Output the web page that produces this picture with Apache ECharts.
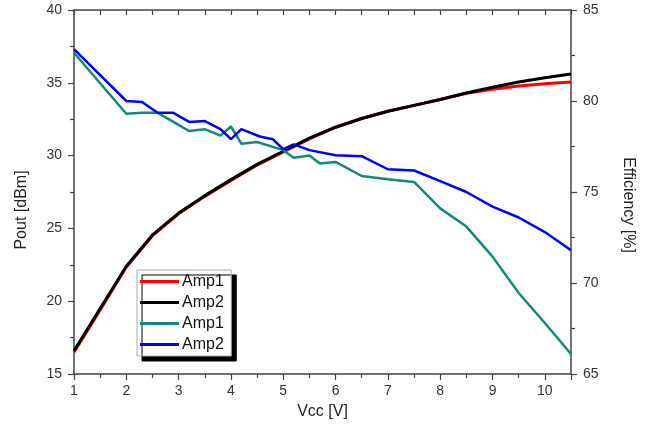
<!DOCTYPE html>
<html>
<head>
<meta charset="utf-8">
<script src="https://cdn.jsdelivr.net/npm/echarts@6/dist/echarts.min.js"></script>
<style>
html,body{margin:0;padding:0;background:#fff;}
#chart{width:649px;height:436px;}
</style>
</head>
<body>
<div id="chart"></div>
<script>
// Output power vs Vcc
const vccPout = [1, 1.5, 2, 2.5, 3, 3.5, 4, 4.5, 5, 5.5, 6, 6.5, 7, 7.5, 8, 8.5, 9, 9.5, 10, 10.5];
const poutAmp1 = [16.5, 19.4, 22.35, 24.5, 26.0, 27.2, 28.3, 29.35, 30.25, 31.15, 31.95, 32.55, 33.05, 33.45, 33.85, 34.28, 34.55, 34.78, 34.93, 35.05];
const poutAmp2 = [16.6, 19.5, 22.4, 24.55, 26.05, 27.25, 28.35, 29.4, 30.3, 31.2, 31.95, 32.55, 33.05, 33.45, 33.85, 34.3, 34.7, 35.05, 35.35, 35.6];

// Efficiency vs Vcc
const vccEff1 = [1, 2, 2.3, 2.6, 2.9, 3.2, 3.5, 3.8, 4.0, 4.2, 4.5, 5.0, 5.2, 5.5, 5.7, 6.0, 6.5, 7.0, 7.5, 8.0, 8.5, 9.0, 9.5, 10.0, 10.5];
const effAmp1 = [82.65, 79.3, 79.35, 79.35, 78.85, 78.35, 78.45, 78.1, 78.6, 77.65, 77.75, 77.3, 76.88, 77.0, 76.56, 76.65, 75.88, 75.7, 75.55, 74.1, 73.1, 71.45, 69.45, 67.8, 66.1];
const vccEff2 = [1, 2, 2.3, 2.6, 2.9, 3.2, 3.5, 3.8, 4.0, 4.2, 4.55, 4.8, 5.0, 5.2, 5.5, 6.0, 6.5, 7.0, 7.5, 8.0, 8.5, 9.0, 9.5, 10.0, 10.5];
const effAmp2 = [82.85, 80.0, 79.95, 79.35, 79.35, 78.85, 78.9, 78.45, 77.9, 78.45, 78.05, 77.9, 77.35, 77.62, 77.3, 77.02, 76.97, 76.25, 76.18, 75.6, 75.0, 74.2, 73.6, 72.8, 71.8];

const legendNames = ['Amp1', 'Amp2', 'Amp1 ', 'Amp2 '];
const colors = ['#ff0000', '#000000', '#16867e', '#0000ff'];

function pairs(xs, ys) { return xs.map((x, i) => [x, ys[i]]); }

const FONT = 'Liberation Sans, Arial, sans-serif';
const axisLineStyle = { color: '#444', width: 1.5 };
const labelStyle = { color: '#333', fontSize: 14, fontFamily: FONT };

const chart = echarts.init(document.getElementById('chart'), null, { renderer: 'canvas' });
chart.setOption({
  animation: false,
  backgroundColor: '#fff',
  grid: { left: 74, right: 78, top: 10, bottom: 62, containLabel: false },
  legend: {
    data: legendNames,
    orient: 'vertical',
    left: 137, top: 270,
    icon: 'rect',
    itemWidth: 39, itemHeight: 3,
    itemGap: 4,
    padding: [3, 3, 3, 3],
    backgroundColor: '#fff',
    borderColor: '#aaa',
    borderWidth: 1,
    borderRadius: 0,
    shadowColor: '#000',
    shadowBlur: 0,
    shadowOffsetX: 5,
    shadowOffsetY: 5,
    textStyle: { color: '#111', fontSize: 16, fontFamily: FONT, lineHeight: 17, padding: [0, 0, 0, -2] }
  },
  xAxis: [
    {
      type: 'value', position: 'bottom', min: 1, max: 10.5, interval: 1,
      name: 'Vcc [V]', nameLocation: 'middle', nameGap: 30,
      nameTextStyle: { color: '#222', fontSize: 16, fontFamily: FONT },
      axisLine: { show: true, lineStyle: axisLineStyle },
      axisTick: { show: true, inside: false, length: 6, lineStyle: { color: '#444', width: 1.2 } },
      minorTick: { show: true, splitNumber: 2, length: 4, lineStyle: { color: '#444', width: 1.2 } },
      axisLabel: Object.assign({ margin: 10, showMaxLabel: false }, labelStyle),
      splitLine: { show: false }, minorSplitLine: { show: false }
    },
    {
      type: 'value', position: 'top', min: 1, max: 10.5, interval: 0.5,
      axisLine: { show: true, lineStyle: axisLineStyle },
      axisTick: { show: true, inside: true, length: 5, lineStyle: { color: '#444', width: 1.2 } },
      axisLabel: { show: false },
      splitLine: { show: false }
    }
  ],
  yAxis: [
    {
      type: 'value', position: 'left', min: 15, max: 40, interval: 5,
      name: 'Pout [dBm]', nameLocation: 'middle', nameGap: 44, nameRotate: 90,
      nameTextStyle: { color: '#222', fontSize: 16, fontFamily: FONT, padding: [0, 36, 0, 0] },
      axisLine: { show: true, lineStyle: axisLineStyle },
      axisTick: { show: true, inside: false, length: 6, lineStyle: { color: '#444', width: 1.2 } },
      minorTick: { show: true, splitNumber: 2, length: 4, lineStyle: { color: '#444', width: 1.2 } },
      axisLabel: Object.assign({ margin: 12 }, labelStyle),
      splitLine: { show: false }, minorSplitLine: { show: false }
    },
    {
      type: 'value', position: 'right', min: 65, max: 85, interval: 5,
      name: 'Efficiency [%]', nameLocation: 'middle', nameGap: 49, nameRotate: -90,
      nameTextStyle: { color: '#222', fontSize: 16, fontFamily: FONT, padding: [0, 0, 0, 26] },
      axisLine: { show: true, lineStyle: axisLineStyle },
      axisTick: { show: true, inside: false, length: 6, lineStyle: { color: '#444', width: 1.2 } },
      minorTick: { show: true, splitNumber: 2, length: 4, lineStyle: { color: '#444', width: 1.2 } },
      axisLabel: Object.assign({ margin: 12 }, labelStyle),
      splitLine: { show: false }, minorSplitLine: { show: false }
    }
  ],
  series: [
    { name: legendNames[0], type: 'line', xAxisIndex: 0, yAxisIndex: 0, data: pairs(vccPout, poutAmp1),
      showSymbol: false, symbol: 'none', smooth: false, color: colors[0], lineStyle: { width: 3, color: colors[0] } },
    { name: legendNames[1], type: 'line', xAxisIndex: 0, yAxisIndex: 0, data: pairs(vccPout, poutAmp2),
      showSymbol: false, symbol: 'none', smooth: false, color: colors[1], lineStyle: { width: 3, color: colors[1] } },
    { name: legendNames[2], type: 'line', xAxisIndex: 0, yAxisIndex: 1, data: pairs(vccEff1, effAmp1),
      showSymbol: false, symbol: 'none', smooth: false, color: colors[2], lineStyle: { width: 2.5, color: colors[2] } },
    { name: legendNames[3], type: 'line', xAxisIndex: 0, yAxisIndex: 1, data: pairs(vccEff2, effAmp2),
      showSymbol: false, symbol: 'none', smooth: false, color: colors[3], lineStyle: { width: 2.5, color: colors[3] } }
  ]
});
</script>
</body>
</html>
